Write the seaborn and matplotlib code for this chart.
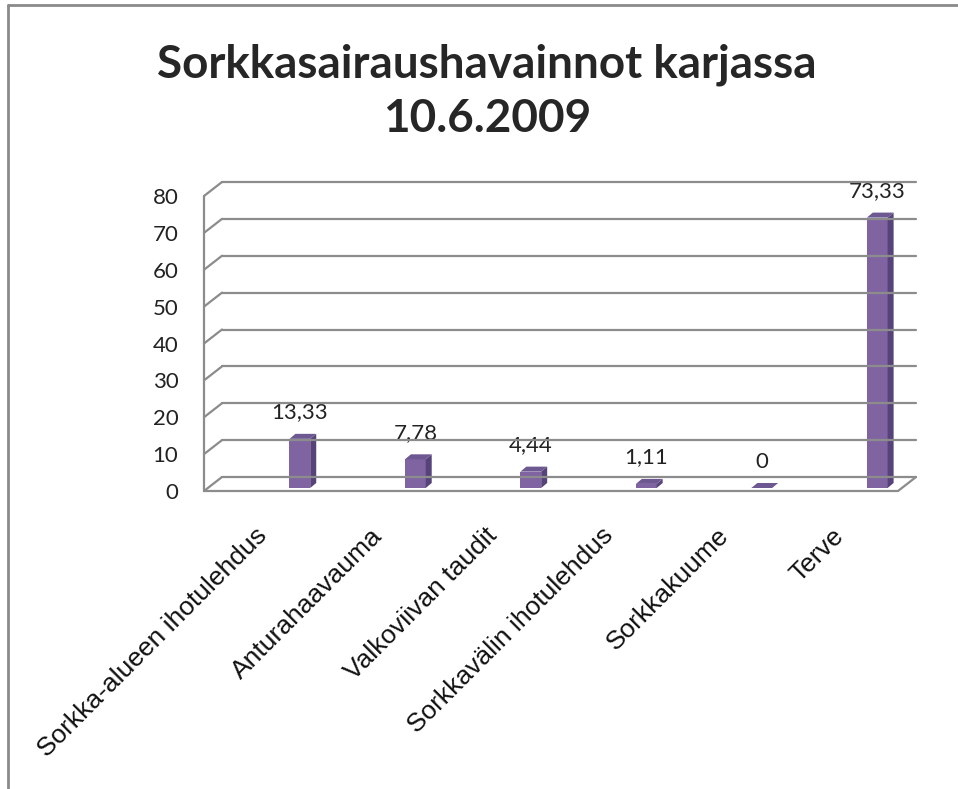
import matplotlib
matplotlib.use("Agg")
import matplotlib.pyplot as plt
import matplotlib.transforms as mtransforms
from matplotlib.lines import Line2D
from matplotlib.patches import Polygon
import seaborn as sns
import pandas as pd

# data
categories = ["Sorkka-alueen ihotulehdus", "Anturahaavauma", "Valkoviivan taudit",
              "Sorkkavälin ihotulehdus", "Sorkkakuume", "Terve"]
values = [13.33, 7.78, 4.44, 1.11, 0, 73.33]
yticks = [0, 10, 20, 30, 40, 50, 60, 70, 80]
title = "Sorkkasairaushavainnot karjassa\n10.6.2009"

df = pd.DataFrame({"cat": categories, "val": values})

sns.set_style("white")
DPI = 100
fig = plt.figure(figsize=(9.58, 7.89), dpi=DPI)
W, H = 958, 789

# axes = front wall / floor of the fake 3D box
x0, x1, yb, yt = 204, 898, 491, 196
ax = fig.add_axes([x0 / W, 1 - yb / H, (x1 - x0) / W, (yb - yt) / H])

front = "#8064A2"
side = "#56437A"
top = "#6E5892"
grid_c = "#8c8c8c"

sns.barplot(data=df, x="cat", y="val", color=front, width=0.18,
            saturation=1, ax=ax, zorder=3)
ax.set_xlim(-0.83, 5.18)
ax.set_ylim(0, 80)
ax.set_yticks(yticks)
for s in ax.spines.values():
    s.set_visible(False)
ax.set_xlabel("")
ax.set_ylabel("")
ax.tick_params(axis="both", length=0)
ax.tick_params(axis="y", pad=18.5)
ax.tick_params(axis="x", pad=0)
for lab in ax.get_yticklabels():
    lab.set_fontfamily("Lato")
    lab.set_fontsize(16)
    lab.set_color("#222222")
ax.set_xticks(range(len(categories)))
ax.set_xticklabels(categories, rotation=45, ha="right", va="center",
                   rotation_mode="anchor", fontsize=19,
                   fontfamily="Liberation Sans", color="#111111")
shift = mtransforms.ScaledTranslation(-37 / DPI, -41 / DPI, fig.dpi_scale_trans)
for lab in ax.get_xticklabels():
    lab.set_transform(lab.get_transform() + shift)

# 3D box: back gridlines, left wall diagonals, floor
dx, dy = 18, 14
ident = mtransforms.IdentityTransform()
ytr = ax.get_yaxis_transform()
for v in yticks:
    pxl, py = ytr.transform((0, v))
    pxr = ytr.transform((1, v))[0]
    fig.add_artist(Line2D([pxl + dx, pxr + dx], [py + dy, py + dy], color=grid_c,
                          lw=1.6, transform=ident))
    fig.add_artist(Line2D([pxl, pxl + dx], [py, py + dy], color=grid_c,
                          lw=1.6, transform=ident))
bl = ytr.transform((0, 0))
br = ytr.transform((1, 0))
tl = ytr.transform((0, yticks[-1]))
fig.add_artist(Line2D([bl[0], tl[0]], [bl[1], tl[1]], color=grid_c, lw=1.6, transform=ident))
fig.add_artist(Line2D([bl[0], br[0], br[0] + dx], [bl[1], br[1], br[1] + dy],
                      color=grid_c, lw=1.6, transform=ident))

# bar depth faces, bars sit slightly behind the front floor edge
bar_up = 3
bd, bh = 6, 5
lift = mtransforms.ScaledTranslation(0, bar_up / DPI, fig.dpi_scale_trans)
for p, v in zip(ax.patches, values):
    p.set_transform(ax.transData + lift)
    p.set_linewidth(0)
    (ax_, ay_), (bx_, by_) = ax.transData.transform(
        [(p.get_x(), p.get_y()), (p.get_x() + p.get_width(), p.get_y() + p.get_height())])
    ay_ += bar_up
    by_ += bar_up
    fig.add_artist(Polygon([(bx_, ay_), (bx_ + bd, ay_ + bh), (bx_ + bd, by_ + bh), (bx_, by_)],
                           closed=True, facecolor=side, edgecolor="none", transform=ident))
    fig.add_artist(Polygon([(ax_, by_), (bx_, by_), (bx_ + bd, by_ + bh), (ax_ + bd, by_ + bh)],
                           closed=True, facecolor=top, edgecolor="none", transform=ident))
    txt = "0" if v == 0 else f"{v:.2f}".replace(".", ",")
    ax.annotate(txt, (p.get_x() + p.get_width() / 2, v), xytext=(0, 14),
                textcoords="offset points", ha="center", va="bottom",
                fontsize=16, fontfamily="Lato", color="#222222")

fig.text(0.508, 0.884, title, ha="center", va="center", fontsize=33,
         fontweight="bold", fontfamily="Lato", linespacing=1.35)

# outer chart border (only top and left visible in the crop)
fig.add_artist(Line2D([8 / W, 1], [1 - 5 / H, 1 - 5 / H], color="#8a8a8a", lw=2,
                      transform=fig.transFigure))
fig.add_artist(Line2D([8 / W, 8 / W], [0, 1 - 5 / H], color="#8a8a8a", lw=2,
                      transform=fig.transFigure))

fig.savefig("out.png", dpi=DPI)
